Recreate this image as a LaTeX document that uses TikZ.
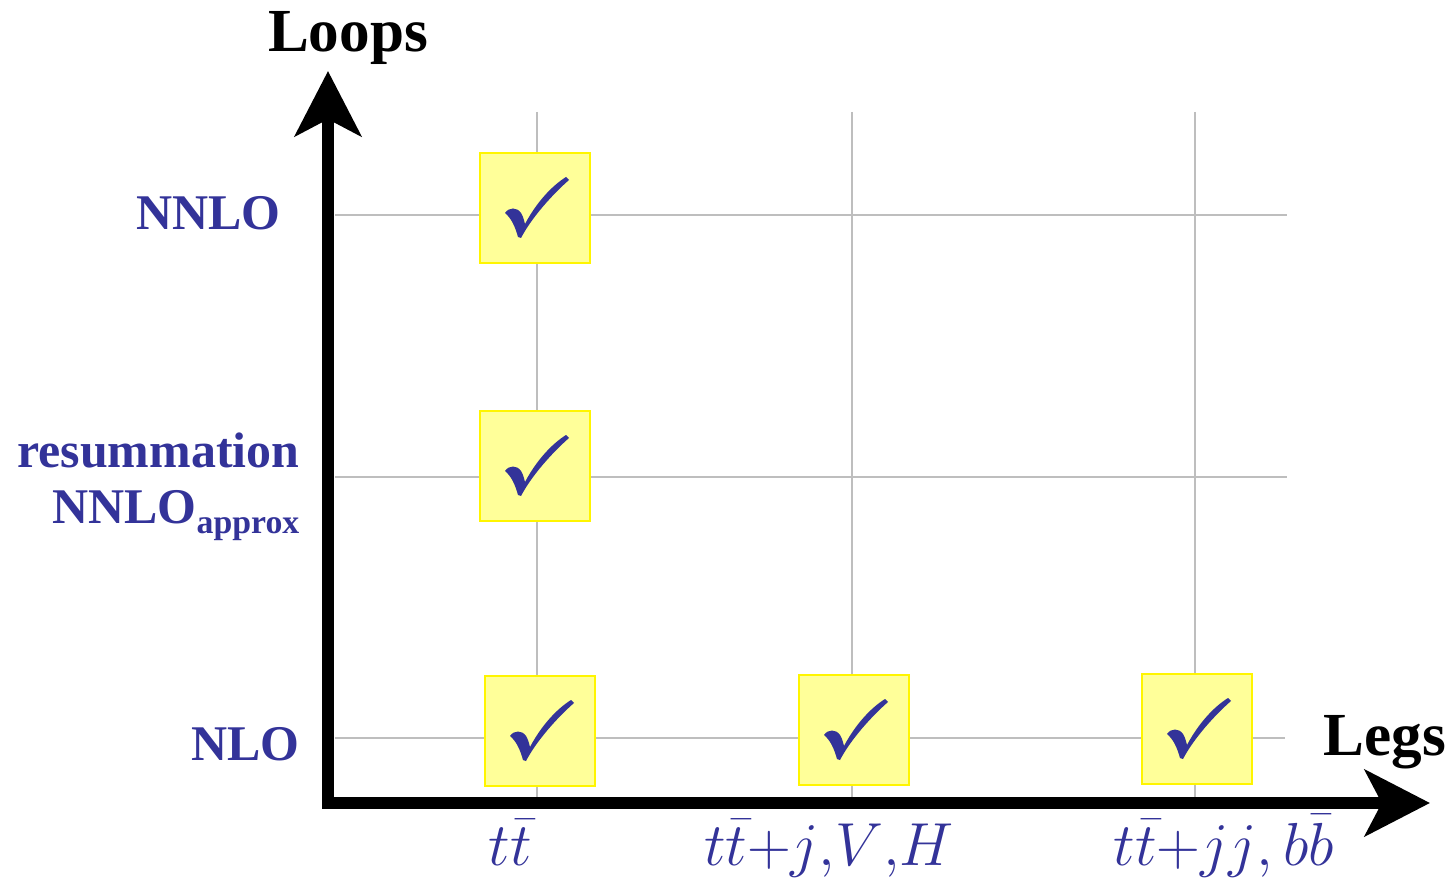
\documentclass[tikz,border=0pt]{standalone}
\usepackage{fontspec}
\setmainfont{Liberation Serif}
\usetikzlibrary{arrows.meta}
\definecolor{lblblue}{RGB}{51,51,153}
\definecolor{boxfill}{RGB}{255,255,153}
\definecolor{boxline}{RGB}{255,245,0}
\definecolor{gridgray}{RGB}{190,190,190}
\tikzset{
  axis/.style={line width=3.5pt, line join=miter,
    {Stealth[length=18.5pt,width=18.8pt,inset=4.8pt]}-{Stealth[length=18.5pt,width=18.8pt,inset=4.8pt]}},
  gridline/.style={draw=gridgray, line width=0.6pt},
  chkbox/.style={draw=boxline, fill=boxfill, line width=0.8pt, minimum size=31.3pt, inner sep=0pt},
  loop label/.style={text=lblblue, font=\fontsize{14.2}{17}\selectfont\bfseries, anchor=base east, inner sep=0pt},
  axis label/.style={text=black, font=\fontsize{17.4}{20}\selectfont\bfseries, anchor=base, inner sep=0pt},
  leg label/.style={text=lblblue, font=\fontsize{16}{19}\selectfont, anchor=base, inner sep=0pt},
  chk/.pic={
    \fill[lblblue] (-30,5)
      .. controls (-26,-1) and (-18,-1) .. (-14,5)
      .. controls (-12,8) and (-11,12) .. (-10,16)
      .. controls (0,-3) and (15,-21) .. (31,-31)
      -- (34,-28)
      .. controls (18,-14) and (-3,9) .. (-14,30)
      -- (-17,29)
      .. controls (-20,18) and (-24,10) .. (-30,5) -- cycle;
  }
}
\begin{document}
\begin{tikzpicture}[x=0.01cm,y=-0.01cm]
\useasboundingbox (0,0) rectangle (1454,888);
% grid
\draw[gridline] (335,215) -- (1287,215);
\draw[gridline] (335,477) -- (1287,477);
\draw[gridline] (335,738) -- (1285,738);
\draw[gridline] (537,112) -- (537,797);
\draw[gridline] (852,112) -- (852,797);
\draw[gridline] (1195,112) -- (1195,797);
% boxes
\node[chkbox] (b1) at (535,208) {};
\node[chkbox] (b2) at (535,466) {};
\node[chkbox] (b3) at (540,731) {};
\node[chkbox] (b4) at (854,730) {};
\node[chkbox] (b5) at (1197,729) {};
\foreach \b in {b1,b2,b3,b4,b5} { \pic at (\b.center) {chk}; }
% axes
\coordinate (ytip) at (328,71);
\coordinate (origin) at (328,803);
\coordinate (xtip) at (1430,803);
\draw[axis] (ytip) -- (origin) -- (xtip);
% axis labels
\node[axis label] (loops) at (348,52) {Loops};
\node[axis label] (legs) at (1385,755) {Legs};
% loop labels
\node[loop label] (nnlo) at (281,229) {NNLO};
\node[loop label] (resum) at (300,467) {resummation};
\node[loop label] (nnloapprox) at (300,523) {NNLO\raisebox{-0.45ex}{\fontsize{9.6}{11}\selectfont approx}};
\node[loop label] (nlo) at (300,760) {NLO};
% leg labels
\node[leg label] (l1) at (510,865) {$t\bar t$};
\node[leg label] (l2) at (829,865) {$t\bar t{+}j{,}V{,}H$};
\node[leg label] (l3) at (1224,865) {$t\bar t{+}jj{,}\,b\bar b$};
\end{tikzpicture}
\end{document}
